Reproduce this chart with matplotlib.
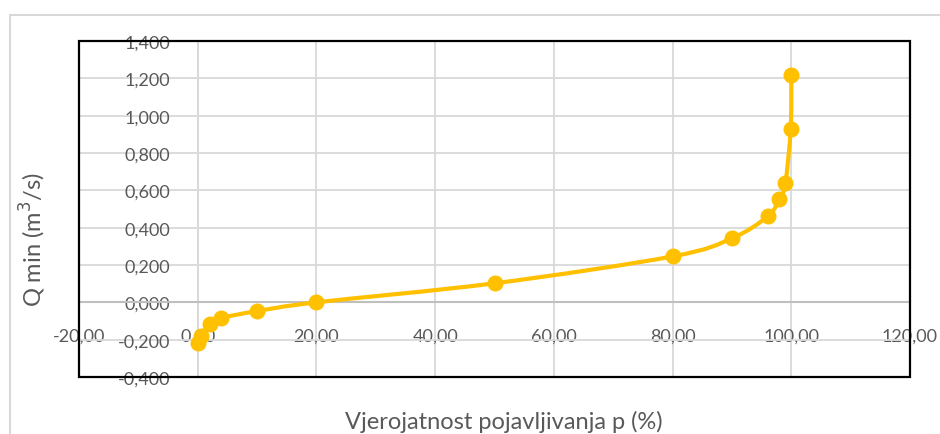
import numpy as np
import matplotlib
matplotlib.use("Agg")
import matplotlib.pyplot as plt
from matplotlib.patches import Rectangle
from matplotlib.path import Path
from matplotlib.patches import PathPatch
from matplotlib.ticker import FuncFormatter, MultipleLocator

# Exceedance probability p (%) and minimum discharge Q min (m3/s)
p_values = [0.0, 0.5, 2.0, 4.0, 10.0, 20.0, 50.0, 80.0, 90.0, 96.0, 98.0, 99.0, 99.9, 100.0]
q_min = [-0.220, -0.178, -0.118, -0.084, -0.047, 0.000, 0.102, 0.246, 0.343,
         0.460, 0.552, 0.638, 0.929, 1.220]

x_label = "Vjerojatnost pojavljivanja p (%)"
y_label = "Q min (m$^3$/s)"

LINE_COLOR = "#FFC000"
TEXT_COLOR = "#595959"
GRID_COLOR = "#D9D9D9"
AXIS_COLOR = "#BFBFBF"

plt.rcParams["font.family"] = ["Lato", "DejaVu Sans"]


def smooth_path(xs, ys):
    """Cubic Bezier path through the points (Catmull-Rom style tangents)."""
    pts = np.column_stack([xs, ys]).astype(float)
    n = len(pts)
    verts = [pts[0]]
    codes = [Path.MOVETO]
    for i in range(n - 1):
        p0 = pts[i - 1] if i > 0 else pts[i]
        p1 = pts[i]
        p2 = pts[i + 1]
        p3 = pts[i + 2] if i + 2 < n else pts[i + 1]
        c1 = p1 + (p2 - p0) / 6.0
        c2 = p2 - (p3 - p1) / 6.0
        verts += [c1, c2, p2]
        codes += [Path.CURVE4] * 3
    return Path(verts, codes)


W, H = 940, 435
fig = plt.figure(figsize=(W / 100, H / 100), dpi=100)

# light outer chart-area frame
fig.patches.append(Rectangle((10 / W, -0.1), 1.2, 1 - 16 / H + 0.1,
                             transform=fig.transFigure, fill=False,
                             edgecolor=GRID_COLOR, linewidth=1.5))

left, right, top, bottom = 79, 910, 42, 378
ax = fig.add_axes([left / W, 1 - bottom / H, (right - left) / W, (bottom - top) / H])
ax.set_xlim(-20, 120)
ax.set_ylim(-0.4, 1.4)

ax.xaxis.set_major_locator(MultipleLocator(20))
ax.yaxis.set_major_locator(MultipleLocator(0.2))
ax.xaxis.set_major_formatter(FuncFormatter(lambda v, _: f"{v:.2f}".replace(".", ",")))
ax.yaxis.set_major_formatter(FuncFormatter(lambda v, _: f"{v:.3f}".replace(".", ",")))

ax.grid(True, color=GRID_COLOR, linewidth=1.3, zorder=0)
ax.set_axisbelow(True)

ax.spines["left"].set_position(("data", 0))
ax.spines["bottom"].set_position(("data", 0))
ax.spines["left"].set_color(GRID_COLOR)
ax.spines["bottom"].set_color(AXIS_COLOR)
ax.spines["left"].set_linewidth(1.3)
ax.spines["bottom"].set_linewidth(1.5)
ax.spines["top"].set_visible(False)
ax.spines["right"].set_visible(False)

ax.tick_params(axis="both", length=0, labelsize=13, colors=TEXT_COLOR)
ax.tick_params(axis="x", pad=18)
ax.tick_params(axis="y", pad=20)

# black plot-area border
ax.add_patch(Rectangle((0, 0), 1, 1, transform=ax.transAxes, fill=False,
                       edgecolor="black", linewidth=1.6, zorder=5, clip_on=False))

curve = PathPatch(smooth_path(p_values, q_min), facecolor="none",
                  edgecolor=LINE_COLOR, linewidth=3, zorder=3,
                  capstyle="round", joinstyle="round")
ax.add_patch(curve)
ax.plot(p_values, q_min, linestyle="none", marker="o", markersize=10.5,
        color=LINE_COLOR, zorder=4, clip_on=False)

for lbl in ax.get_xticklabels() + ax.get_yticklabels():
    lbl.set_zorder(6)

fig.text(504 / W, 1 - 422 / H, x_label, ha="center", va="center",
         fontsize=17, color=TEXT_COLOR)
fig.text(33 / W, 1 - 240 / H, y_label, ha="center", va="center",
         rotation=90, fontsize=17, color=TEXT_COLOR)

fig.savefig("out.png", dpi=100, facecolor="white")
